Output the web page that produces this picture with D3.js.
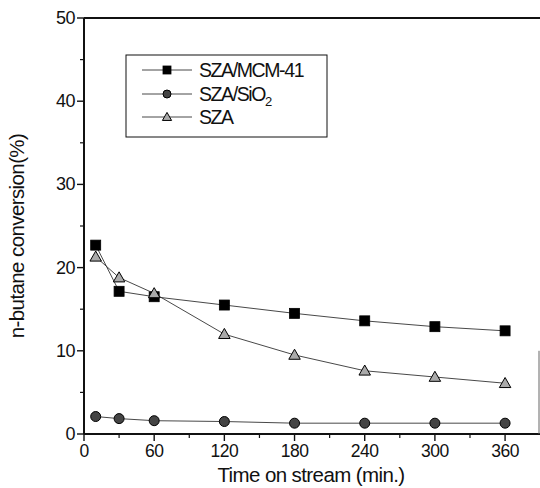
<!DOCTYPE html>
<html>
<head>
<meta charset="utf-8">
<script src="https://cdn.jsdelivr.net/npm/d3@7"></script>
<style>
  body { margin: 0; background: #fff; }
  text { font-family: Arial, "Liberation Sans", sans-serif; fill: #111; }
</style>
</head>
<body>
<div id="chart"></div>
<script>
// data
let times = [10, 30, 60, 120, 180, 240, 300, 360];
let sza_mcm = [22.7, 17.15, 16.5, 15.5, 14.5, 13.6, 12.9, 12.4];
let sza_sio2 = [2.1, 1.85, 1.6, 1.5, 1.3, 1.3, 1.3, 1.3];
let sza = [21.3, 18.8, 16.9, 12.0, 9.5, 7.6, 6.85, 6.1];
let x_ticks = [0, 60, 120, 180, 240, 300, 360];
let y_ticks = [0, 10, 20, 30, 40, 50];

let w = 540, h = 488;
let svg = d3.select("#chart").append("svg")
    .attr("width", w)
    .attr("height", h);

// plot area
let plot_left = 84, plot_top = 18, plot_bottom = 434;
let x = d3.scaleLinear().domain([0, 389]).range([plot_left, 539]);
let y = d3.scaleLinear().domain([0, 50]).range([plot_bottom, plot_top]);

// x axis with minor ticks
let x_minor = d3.range(30, 390, 60);
svg.selectAll(".xminor").data(x_minor).enter().append("line")
    .attr("x1", d => x(d)).attr("x2", d => x(d))
    .attr("y1", plot_bottom).attr("y2", plot_bottom + 4)
    .attr("stroke", "#111").attr("stroke-width", 1.2);
svg.selectAll(".xmajor").data(x_ticks).enter().append("line")
    .attr("x1", d => x(d)).attr("x2", d => x(d))
    .attr("y1", plot_bottom).attr("y2", plot_bottom + 7)
    .attr("stroke", "#111").attr("stroke-width", 1.4);
svg.selectAll(".xlab").data(x_ticks).enter().append("text")
    .attr("x", d => x(d)).attr("y", plot_bottom + 23)
    .attr("text-anchor", "middle")
    .attr("font-size", 17.5)
    .attr("letter-spacing", -0.5)
    .text(d => d);

// y axis with minor ticks
let y_minor = d3.range(5, 50, 10);
svg.selectAll(".yminor").data(y_minor).enter().append("line")
    .attr("x1", plot_left - 4).attr("x2", plot_left)
    .attr("y1", d => y(d)).attr("y2", d => y(d))
    .attr("stroke", "#111").attr("stroke-width", 1.2);
svg.selectAll(".ymajor").data(y_ticks).enter().append("line")
    .attr("x1", plot_left - 7).attr("x2", plot_left)
    .attr("y1", d => y(d)).attr("y2", d => y(d))
    .attr("stroke", "#111").attr("stroke-width", 1.4);
svg.selectAll(".ylab").data(y_ticks).enter().append("text")
    .attr("x", plot_left - 9).attr("y", d => y(d) + 6)
    .attr("text-anchor", "end")
    .attr("font-size", 18)
    .attr("letter-spacing", -0.5)
    .text(d => d);

// frame lines
svg.append("line")
    .attr("x1", plot_left).attr("x2", w).attr("y1", plot_bottom).attr("y2", plot_bottom)
    .attr("stroke", "#111").attr("stroke-width", 2);
svg.append("line")
    .attr("x1", plot_left).attr("x2", w).attr("y1", plot_top).attr("y2", plot_top)
    .attr("stroke", "#111").attr("stroke-width", 2);
svg.append("line")
    .attr("x1", plot_left).attr("x2", plot_left).attr("y1", plot_top).attr("y2", plot_bottom)
    .attr("stroke", "#111").attr("stroke-width", 2);
svg.append("line")
    .attr("x1", 539).attr("x2", 539).attr("y1", y(10)).attr("y2", plot_bottom)
    .attr("stroke", "#666").attr("stroke-width", 1);

// series
let series = [
    {name: "SZA/MCM-41", values: sza_mcm, shape: "square", fill: "#000"},
    {name: "SZA/SiO", sub: "2", values: sza_sio2, shape: "circle", fill: "#444"},
    {name: "SZA", values: sza, shape: "triangle", fill: "#aaa"}
];

let line = d3.line().x((d, i) => x(times[i])).y(d => y(d));

function drawMarker(g, shape, cx, cy, fill, size) {
    if (shape === "square") {
        g.append("rect")
            .attr("x", cx - size).attr("y", cy - size)
            .attr("width", size * 2).attr("height", size * 2)
            .attr("fill", fill).attr("stroke", "#000").attr("stroke-width", 0.8);
    } else if (shape === "circle") {
        g.append("circle")
            .attr("cx", cx).attr("cy", cy).attr("r", size)
            .attr("fill", fill).attr("stroke", "#000").attr("stroke-width", 1);
    } else {
        let s = size * 1.15;
        g.append("path")
            .attr("d", `M${cx},${cy - s}L${cx + s},${cy + s * 0.75}L${cx - s},${cy + s * 0.75}Z`)
            .attr("fill", fill).attr("stroke", "#000").attr("stroke-width", 1);
    }
}

series.forEach(s => {
    let g = svg.append("g");
    g.append("path")
        .datum(s.values)
        .attr("d", line)
        .attr("fill", "none")
        .attr("stroke", "#333")
        .attr("stroke-width", 0.9);
    s.values.forEach((v, i) => drawMarker(g, s.shape, x(times[i]), y(v), s.fill, 5));
});

// legend
let legend = svg.append("g");
legend.append("rect")
    .attr("x", 126).attr("y", 55).attr("width", 201).attr("height", 82)
    .attr("fill", "#fff").attr("stroke", "#111").attr("stroke-width", 1);
let rows = [70, 94, 117];
series.forEach((s, i) => {
    let ry = rows[i];
    legend.append("line")
        .attr("x1", 142).attr("x2", 192).attr("y1", ry).attr("y2", ry)
        .attr("stroke", "#333").attr("stroke-width", 0.9);
    drawMarker(legend, s.shape, 167, ry, s.fill, 4);
    let t = legend.append("text")
        .attr("x", 199).attr("y", ry + 7)
        .attr("font-size", 19.5)
        .attr("letter-spacing", -1.4)
        .text(s.name);
    if (s.sub) {
        t.append("tspan").attr("font-size", 13).attr("dy", 5).text(s.sub);
    }
});

// axis titles
svg.append("text")
    .attr("x", 311).attr("y", 482)
    .attr("text-anchor", "middle")
    .attr("font-size", 20.5)
    .attr("letter-spacing", -0.6)
    .text("Time on stream (min.)");
svg.append("text")
    .attr("transform", "translate(24,236) rotate(-90)")
    .attr("text-anchor", "middle")
    .attr("font-size", 20.5)
    .attr("letter-spacing", -0.6)
    .text("n-butane conversion(%)");
</script>
</body>
</html>
